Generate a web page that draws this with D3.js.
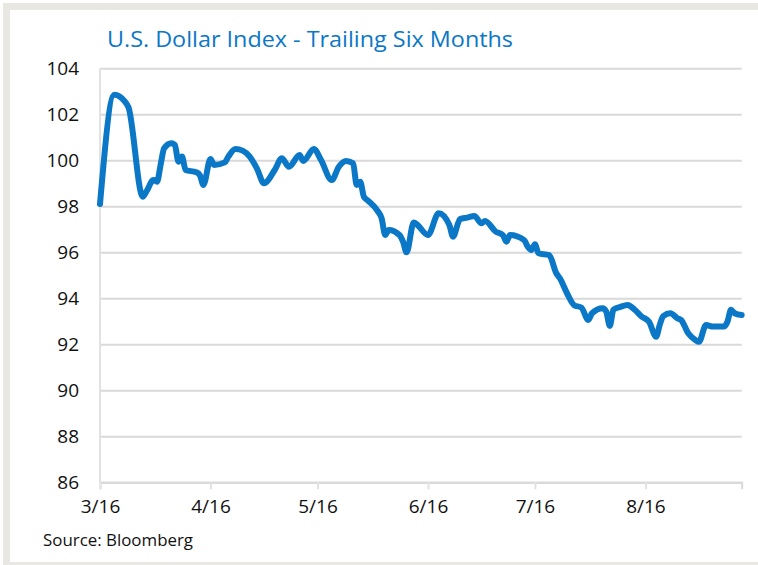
<!DOCTYPE html>
<html>
<head>
<meta charset="utf-8">
<script src="https://cdn.jsdelivr.net/npm/d3@7"></script>
<style>
  html, body { margin: 0; padding: 0; background: #fff; }
  svg { display: block; font-family: 'Open Sans', 'Noto Sans', sans-serif; }
</style>
</head>
<body>
<div class="usd_chart"></div>
<script>
// daily closes
const dates = [
  '2016-03-16', '2016-03-20', '2016-03-23', '2016-03-24', '2016-03-28', '2016-03-29', '2016-03-31',
  '2016-04-01', '2016-04-02', '2016-04-03', '2016-04-05', '2016-04-06', '2016-04-07', '2016-04-08',
  '2016-04-09', '2016-04-12', '2016-04-13', '2016-04-14', '2016-04-16', '2016-04-17', '2016-04-20',
  '2016-04-21', '2016-04-23', '2016-04-25', '2016-04-27', '2016-04-29', '2016-05-01', '2016-05-04',
  '2016-05-06', '2016-05-08', '2016-05-11', '2016-05-12', '2016-05-15', '2016-05-17', '2016-05-20',
  '2016-05-22', '2016-05-24', '2016-05-26', '2016-05-27', '2016-05-28', '2016-05-29', '2016-05-30',
  '2016-06-02', '2016-06-03', '2016-06-04', '2016-06-05', '2016-06-08', '2016-06-09', '2016-06-10',
  '2016-06-12', '2016-06-13', '2016-06-16', '2016-06-19', '2016-06-22', '2016-06-23', '2016-06-25',
  '2016-06-27', '2016-06-29', '2016-07-01', '2016-07-02', '2016-07-05', '2016-07-07', '2016-07-08',
  '2016-07-09', '2016-07-13', '2016-07-14', '2016-07-15', '2016-07-16', '2016-07-17', '2016-07-20',
  '2016-07-22', '2016-07-23', '2016-07-25', '2016-07-27', '2016-07-29', '2016-07-31', '2016-08-01',
  '2016-08-04', '2016-08-05', '2016-08-06', '2016-08-07', '2016-08-09', '2016-08-11', '2016-08-13',
  '2016-08-15', '2016-08-17', '2016-08-19', '2016-08-20', '2016-08-21', '2016-08-23', '2016-08-25',
  '2016-08-26', '2016-08-28', '2016-08-30', '2016-08-31', '2016-09-02', '2016-09-04', '2016-09-07',
  '2016-09-08', '2016-09-09', '2016-09-10', '2016-09-12'
]
const values = [
  98.1, 102.85, 102.55, 102.3, 98.42, 98.64, 99.14,
  99.07, 99.8, 100.52, 100.74, 100.67, 99.94, 100.16,
  99.58, 99.48, 99.36, 98.93, 100.06, 99.8, 99.91,
  100.16, 100.49, 100.42, 100.16, 99.65, 99.0, 99.58,
  100.09, 99.72, 100.23, 99.97, 100.49, 100.01, 99.14,
  99.72, 99.97, 99.87, 98.93, 99.07, 98.42, 98.27,
  97.77, 97.48, 96.75, 96.97, 96.75, 96.46, 96.0,
  97.3, 97.2, 96.75, 97.7, 97.19, 96.68, 97.45,
  97.51, 97.58, 97.26, 97.36, 96.9, 96.75, 96.46,
  96.75, 96.53, 96.24, 96.1, 96.35, 95.96, 95.88,
  95.09, 94.87, 94.22, 93.7, 93.6, 93.06, 93.35,
  93.57, 93.42, 92.8, 93.5, 93.63, 93.71, 93.5,
  93.2, 92.98, 92.33, 92.84, 93.23, 93.35, 93.13,
  93.06, 92.48, 92.19, 92.11, 92.84, 92.77, 92.77,
  92.98, 93.5, 93.35, 93.27
]
const xTickDates = ['2016-03-16', '2016-04-16', '2016-05-16', '2016-06-16', '2016-07-16', '2016-08-16']
const xTickLabels = ['3/16', '4/16', '5/16', '6/16', '7/16', '8/16']
const yTicks = [86, 88, 90, 92, 94, 96, 98, 100, 102, 104]

const title = 'U.S. Dollar Index - Trailing Six Months'
const source = 'Source: Bloomberg'

function drawChart () {
  const width = 758
  const height = 565
  const blue = '#0a77c7'
  const grid = '#d9d9d9'
  const frame = '#e8e7e2'
  const parse = d3.timeParse('%Y-%m-%d')

  const data = dates.map((d, i) => ({ date: parse(d), value: values[i] }))

  const x = d3.scaleTime()
    .domain([parse('2016-03-16'), parse('2016-09-12')])
    .range([100, 741.7])
  const y = d3.scaleLinear()
    .domain([86, 104])
    .range([482.3, 68.3])

  const svg = d3.select('.usd_chart').append('svg')
    .attr('width', width)
    .attr('height', height)

  // frame bands
  svg.append('rect').attr('x', 3).attr('y', 3).attr('width', width - 3).attr('height', 7).attr('fill', frame)
  svg.append('rect').attr('x', 3).attr('y', 3).attr('width', 7).attr('height', height - 3).attr('fill', frame)
  svg.append('rect').attr('x', 3).attr('y', 562).attr('width', width - 3).attr('height', 3).attr('fill', frame)

  // title
  svg.append('text')
    .attr('x', 107)
    .attr('y', 46.5)
    .attr('fill', blue)
    .attr('font-size', '22px')
    .attr('textLength', 406)
    .attr('lengthAdjust', 'spacingAndGlyphs')
    .text(title)

  // y grid + labels
  const yAxis = svg.append('g')
    .attr('transform', 'translate(100,0)')
    .call(d3.axisLeft(y).tickValues(yTicks).tickSize(-641.7).tickFormat(d3.format('d')))
  yAxis.select('.domain').remove()
  yAxis.selectAll('.tick line').attr('stroke', grid).attr('stroke-width', 2)
  yAxis.selectAll('.tick text')
    .attr('x', -21)
    .attr('dy', '0.34em')
    .attr('fill', '#111')
    .attr('font-size', '19px')
    .attr('font-family', "'Open Sans', sans-serif")

  // vertical axis line
  svg.append('line')
    .attr('x1', x.range()[0]).attr('x2', x.range()[0])
    .attr('y1', y(104)).attr('y2', y(86))
    .attr('stroke', '#e2e2e2').attr('stroke-width', 2)

  // x axis
  const xAxis = svg.append('g')
    .attr('transform', 'translate(0,' + y(86) + ')')
    .call(d3.axisBottom(x)
      .tickValues(xTickDates.map(parse))
      .tickSize(7)
      .tickPadding(10)
      .tickFormat((d, i) => xTickLabels[i]))
  xAxis.select('.domain').attr('stroke', grid).attr('stroke-width', 2)
  xAxis.selectAll('.tick line').attr('stroke', '#e2e2e2').attr('stroke-width', 2)
  xAxis.selectAll('.tick text')
    .attr('fill', '#111')
    .attr('font-size', '19px')
    .attr('font-family', "'Open Sans', sans-serif")

  // the series
  const line = d3.line()
    .x((d) => x(d.date))
    .y((d) => y(d.value))
    .curve(d3.curveMonotoneX)

  svg.append('path')
    .datum(data)
    .attr('d', line)
    .attr('fill', 'none')
    .attr('stroke', blue)
    .attr('stroke-width', 6)
    .attr('stroke-linejoin', 'round')
    .attr('stroke-linecap', 'round')

  // source note
  svg.append('text')
    .attr('x', 43)
    .attr('y', 545.5)
    .attr('fill', '#111')
    .attr('font-size', '16px')
    .attr('textLength', 150)
    .attr('lengthAdjust', 'spacingAndGlyphs')
    .text(source)
}

drawChart()
</script>
</body>
</html>
